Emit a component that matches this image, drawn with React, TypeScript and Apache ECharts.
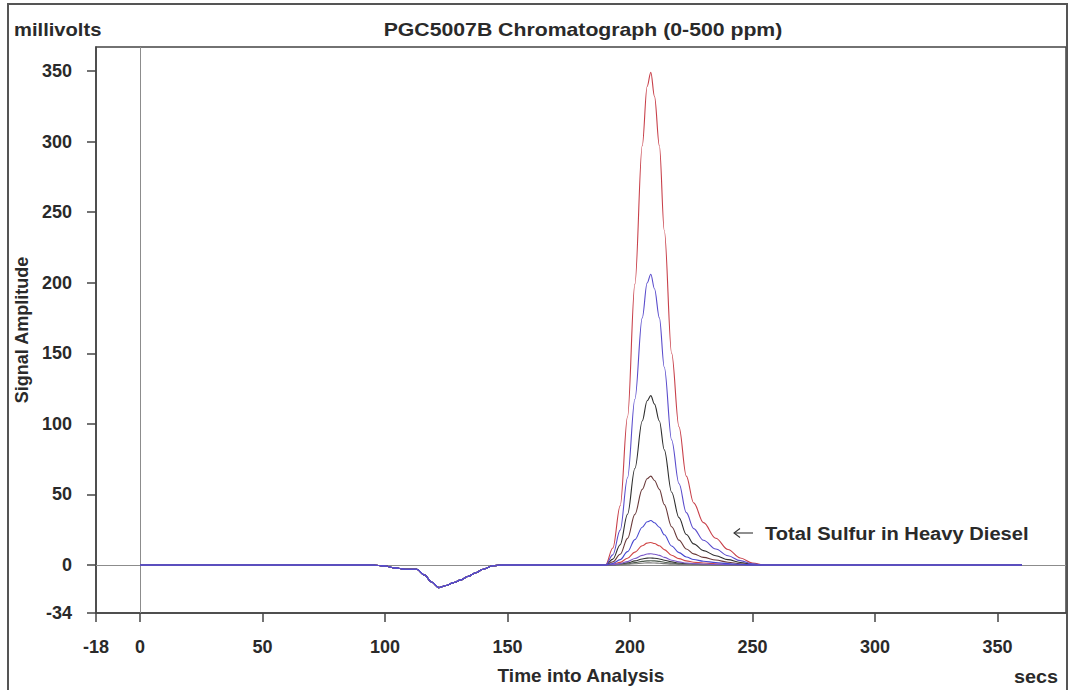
import React, { useEffect, useRef } from "react";
import * as echarts from "echarts";

const xTicks = [-18, 0, 50, 100, 150, 200, 250, 300, 350];
const yTicks = [-34, 0, 50, 100, 150, 200, 250, 300, 350];

const leadTimes = [0, 50, 95];
const dipTimes = [100, 104, 108, 113, 116, 119, 122, 125, 128, 131, 134, 137, 140, 144, 148, 170];
const dipValues = [-0.7, -2, -3, -3, -7, -12, -16, -14.5, -12.5, -10.5, -8, -5.5, -3, -0.5, 0, 0];
const peakTimes = [190, 193, 196, 199, 202, 205, 207, 208.5, 210, 212, 214, 217, 220, 223, 226, 230, 235, 240, 245, 250, 255];
const tailTimes = [300, 360];

const run1 = [0, 12, 42, 105, 199, 297, 339, 349, 332, 297, 237, 150, 98, 63, 44, 30, 19, 11, 5, 1.4, 0];
const run2 = [0, 7.2, 24.7, 61.8, 117.4, 175.1, 199.8, 206, 195.7, 175.1, 140.1, 88.6, 57.7, 37.1, 25.8, 17.5, 11.3, 6.6, 3.1, 0.8, 0];
const run3 = [0, 4.2, 14.4, 36, 68.4, 102, 116.4, 120, 114, 102, 81.6, 51.6, 33.6, 21.6, 15, 10.2, 6.6, 3.8, 1.8, 0.5, 0];
const run4 = [0, 2.2, 7.6, 18.9, 35.9, 53.6, 61.1, 63, 59.9, 53.6, 42.8, 27.1, 17.6, 11.3, 7.9, 5.4, 3.5, 2, 0.9, 0.3, 0];
const run5 = [0, 1.1, 3.8, 9.5, 18, 26.8, 30.6, 31.5, 29.9, 26.8, 21.4, 13.5, 8.8, 5.7, 3.9, 2.7, 1.7, 1, 0.5, 0.1, 0];
const run6 = [0, 0.6, 1.9, 4.8, 9.1, 13.6, 15.5, 16, 15.2, 13.6, 10.9, 6.9, 4.5, 2.9, 2, 1.4, 0.9, 0.5, 0.2, 0.1, 0];
const run7 = [0, 0.3, 1, 2.4, 4.6, 6.8, 7.8, 8, 7.6, 6.8, 5.4, 3.4, 2.2, 1.4, 1, 0.7, 0.4, 0.3, 0.1, 0, 0];
const run8 = [0, 0.2, 0.6, 1.5, 2.9, 4.3, 4.9, 5, 4.8, 4.3, 3.4, 2.2, 1.4, 0.9, 0.6, 0.4, 0.3, 0.2, 0.1, 0, 0];
const run9 = [0, 0.1, 0.4, 0.9, 1.7, 2.6, 2.9, 3, 2.9, 2.6, 2, 1.3, 0.8, 0.5, 0.4, 0.3, 0.2, 0.1, 0, 0, 0];
const run10 = [0, 0.1, 0.2, 0.5, 0.9, 1.3, 1.5, 1.5, 1.4, 1.3, 1, 0.6, 0.4, 0.3, 0.2, 0.1, 0.1, 0, 0, 0, 0];

const runs = [run1, run3, run4, run6, run8, run9, run10, run7, run5, run2];
const runNames = ["Run 1", "Run 3", "Run 4", "Run 6", "Run 8", "Run 9", "Run 10", "Run 7", "Run 5", "Run 2"];
const runColors = ["#c8404a", "#2e2e2e", "#6a3a3a", "#d04848", "#333333", "#4d5a4d", "#7a7a7a", "#7a58c8", "#4848d0", "#5a4ccc"];

const FONT = "'Liberation Sans', Arial, Helvetica, sans-serif";
const TXT = "#2a2a2a";
const AX = "#444444";

function buildData(peak: number[]) {
  const d: number[][] = [];
  leadTimes.forEach((t) => d.push([t, 0]));
  dipTimes.forEach((t, i) => d.push([t, dipValues[i]]));
  peakTimes.forEach((t, i) => d.push([t, peak[i]]));
  tailTimes.forEach((t) => d.push([t, 0]));
  return d;
}

export default function App() {
  const ref = useRef<HTMLDivElement>(null);
  useEffect(() => {
    if (!ref.current) return;
    const chart = echarts.init(ref.current, null, { renderer: "svg" });
    const series: any[] = runs.map((r, i) => ({
      name: runNames[i],
      type: "line",
      data: buildData(r),
      showSymbol: false,
      smooth: 0.35,
      smoothMonotone: "x",
      lineStyle: { color: runColors[i], width: 1.1 },
      itemStyle: { color: runColors[i] },
      z: 3,
    }));
    series[0].markLine = {
      silent: true,
      symbol: ["none", "none"],
      label: { show: false },
      lineStyle: { color: "#8c8c8c", width: 1, type: "solid" },
      data: [{ xAxis: 0 }, { yAxis: 0 }],
      z: 1,
    };
    chart.setOption({
      animation: false,
      backgroundColor: "#ffffff",
      grid: { left: 96, right: 9, top: 47, bottom: 75, show: true, borderColor: AX, borderWidth: 1.5 },
      xAxis: {
        type: "value",
        min: -18,
        max: 378,
        name: "Time into Analysis",
        nameLocation: "middle",
        nameGap: 53,
        nameTextStyle: { fontFamily: FONT, fontWeight: "bold", fontSize: 19, color: TXT },
        splitLine: { show: false },
        axisLine: { show: true, onZero: false, lineStyle: { color: AX, width: 1.5 } },
        axisTick: { show: true, customValues: xTicks, length: 9, lineStyle: { color: AX, width: 1.5 } },
        axisLabel: { customValues: xTicks, margin: 25, fontFamily: FONT, fontWeight: "bold", fontSize: 18, color: TXT },
      },
      yAxis: {
        type: "value",
        min: -34,
        max: 367,
        name: "Signal Amplitude",
        nameLocation: "middle",
        nameGap: 62,
        nameRotate: 90,
        nameTextStyle: { fontFamily: FONT, fontWeight: "bold", fontSize: 18, color: TXT },
        splitLine: { show: false },
        axisLine: { show: true, onZero: false, lineStyle: { color: AX, width: 1.5 } },
        axisTick: { show: true, customValues: yTicks, length: 9, lineStyle: { color: AX, width: 1.5 } },
        axisLabel: { customValues: yTicks, margin: 24, fontFamily: FONT, fontWeight: "bold", fontSize: 18, color: TXT },
      },
      graphic: [
        { type: "rect", shape: { x: 8, y: 4, width: 1059, height: 720 }, style: { fill: "none", stroke: "#555", lineWidth: 2 }, silent: true, z: 0 },
        { type: "text", x: 14, y: 30, scaleX: 1.12, style: { text: "millivolts", font: `bold 18px ${FONT}`, fill: TXT, textVerticalAlign: "middle" } },
        { type: "text", x: 583, y: 30, scaleX: 1.18, style: { text: "PGC5007B Chromatograph (0-500 ppm)", font: `bold 18px ${FONT}`, fill: TXT, textAlign: "center", textVerticalAlign: "middle" } },
        { type: "text", x: 1058, y: 677, scaleX: 1.1, style: { text: "secs", font: `bold 18px ${FONT}`, fill: TXT, textAlign: "right", textVerticalAlign: "middle" } },
        { type: "line", shape: { x1: 734, y1: 533, x2: 753, y2: 533 }, style: { stroke: "#333", lineWidth: 1.1 } },
        { type: "polyline", shape: { points: [[740, 528.5], [734, 533], [740, 537.5]] }, style: { stroke: "#333", lineWidth: 1.1, fill: "none" } },
        { type: "text", x: 765, y: 533, scaleX: 1.06, style: { text: "Total Sulfur in Heavy Diesel", font: `bold 19px ${FONT}`, fill: TXT, textVerticalAlign: "middle" } },
      ],
      series,
    });
    return () => chart.dispose();
  }, []);
  return <div ref={ref} style={{ position: "fixed", left: 0, top: 0, width: 1075, height: 690 }} />;
}
